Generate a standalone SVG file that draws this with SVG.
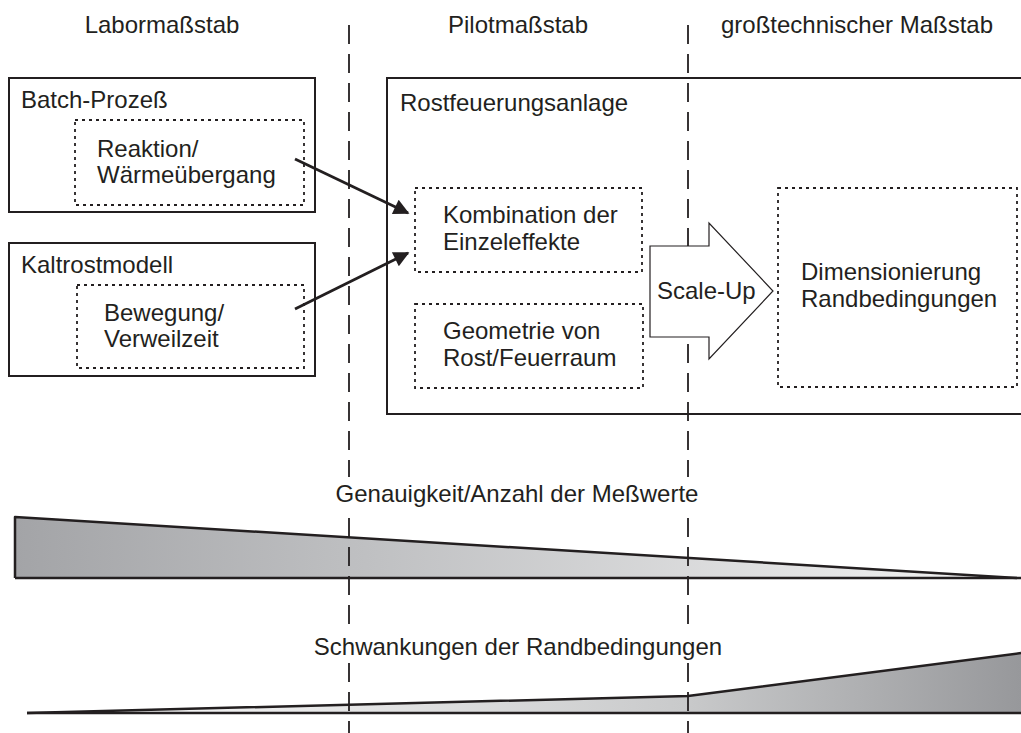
<svg xmlns="http://www.w3.org/2000/svg" width="1021" height="733" viewBox="0 0 1021 733">
<style>
text{font-family:"Liberation Sans",Arial,sans-serif;font-size:24px;fill:#231f20}
.mid{text-anchor:middle}
.box{fill:none;stroke:#231f20;stroke-width:2}
.dot{fill:none;stroke:#231f20;stroke-width:1.8;stroke-dasharray:3 4}
.sep{stroke:#231f20;stroke-width:1.8;stroke-dasharray:19 10}
.conn{stroke:#231f20;stroke-width:2.8;fill:none}
.edge{fill:none;stroke:#231f20;stroke-width:2.5;stroke-linejoin:round}
.bg{fill:#ffffff;stroke:none}
</style>
<defs>
<marker id="ah" viewBox="0 0 10 10" refX="9" refY="5" markerWidth="7" markerHeight="5.6" markerUnits="strokeWidth" orient="auto">
<path d="M0,0 L10,5 L0,10 z" fill="#231f20"/>
</marker>
<linearGradient id="g1" x1="15" y1="0" x2="1017" y2="0" gradientUnits="userSpaceOnUse">
<stop offset="0" stop-color="#a3a4a7"/>
<stop offset="0.35" stop-color="#bfc0c2"/>
<stop offset="1" stop-color="#f4f4f4"/>
</linearGradient>
<linearGradient id="g2" x1="27" y1="0" x2="1021" y2="0" gradientUnits="userSpaceOnUse">
<stop offset="0" stop-color="#ffffff"/>
<stop offset="0.66" stop-color="#c9cacb"/>
<stop offset="1" stop-color="#97989b"/>
</linearGradient>
</defs>

<g id="wedges">
<path d="M15,517 L1017,578 L15,578 Z" fill="url(#g1)" stroke="none"/>
<path d="M27,713 L688,696 L1021,653 L1021,713 Z" fill="url(#g2)" stroke="none"/>
</g>

<g id="separators">
<line class="sep" x1="349" y1="25" x2="349" y2="733"/>
<line class="sep" x1="688" y1="25" x2="688" y2="733"/>
</g>

<g id="wedge-edges">
<path class="edge" d="M15,578 L15,517 L1017,578"/>
<line class="edge" x1="15" y1="578" x2="1021" y2="578"/>
<path class="edge" d="M27,713 L688,696 L1021,653"/>
<line class="edge" x1="27" y1="713" x2="1021" y2="713"/>
</g>

<g id="headers">
<text class="mid" x="162" y="33">Labormaßstab</text>
<text class="mid" x="518" y="33">Pilotmaßstab</text>
<text class="mid" x="857" y="33">großtechnischer Maßstab</text>
</g>

<g id="batch">
<rect class="box" x="9" y="78" width="306" height="134"/>
<text x="21" y="108">Batch-Prozeß</text>
</g>
<g id="reaktion">
<rect class="dot" x="75" y="120" width="229" height="85"/>
<text x="97" y="157">Reaktion/</text>
<text x="97" y="183">Wärmeübergang</text>
</g>

<g id="kaltrost">
<rect class="box" x="9" y="243" width="306" height="133"/>
<text x="21" y="273">Kaltrostmodell</text>
</g>
<g id="bewegung">
<rect class="dot" x="77" y="285" width="227" height="83"/>
<text x="104" y="321">Bewegung/</text>
<text x="104" y="347">Verweilzeit</text>
</g>

<g id="rost">
<path class="box" d="M1023,78 L387,78 L387,414 L1023,414"/>
<text x="400" y="111">Rostfeuerungsanlage</text>
</g>
<g id="kombination">
<rect class="dot" x="415" y="188" width="227" height="84"/>
<text x="443" y="223">Kombination der</text>
<text x="443" y="250">Einzeleffekte</text>
</g>
<g id="geometrie">
<rect class="dot" x="415" y="304" width="228" height="84"/>
<text x="443" y="339">Geometrie von</text>
<text x="443" y="366">Rost/Feuerraum</text>
</g>

<g id="scaleup">
<polygon points="650,246 709,246 709,223 773,291 709,359 709,337 650,337" fill="#ffffff" stroke="#231f20" stroke-width="1.2"/>
<text x="657" y="299">Scale-Up</text>
</g>

<g id="dimensionierung">
<rect class="dot" x="778" y="188" width="239" height="199"/>
<text x="801" y="280">Dimensionierung</text>
<text x="801" y="307">Randbedingungen</text>
</g>

<g id="connectors">
<line class="conn" x1="295" y1="159" x2="408" y2="213" marker-end="url(#ah)"/>
<line class="conn" x1="295" y1="309" x2="408" y2="253" marker-end="url(#ah)"/>
</g>

<g id="labels">
<rect class="bg" x="322" y="477" width="392" height="31"/>
<text class="mid" x="517" y="502">Genauigkeit/Anzahl der Meßwerte</text>
<rect class="bg" x="309" y="634" width="420" height="28"/>
<text class="mid" x="518" y="655">Schwankungen der Randbedingungen</text>
</g>
</svg>
